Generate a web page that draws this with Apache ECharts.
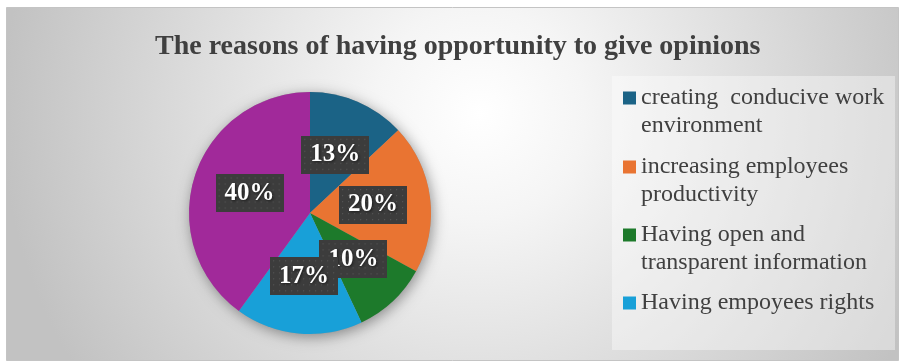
<!DOCTYPE html>
<html>
<head>
<meta charset="utf-8">
<style>
  html, body { margin: 0; padding: 0; background: #ffffff; }
  #chart { width: 900px; height: 361px; }
</style>
<script src="https://cdn.jsdelivr.net/npm/echarts@6/dist/echarts.min.js"></script>
</head>
<body>
<div id="chart"></div>
<script>
// Survey shares (percent) of the reasons
const titleText = 'The reasons of having opportunity to give opinions';
const categories = [
  'creating  conducive work\nenvironment',
  'increasing employees\nproductivity',
  'Having open and\ntransparent information',
  'Having empoyees rights',
  'Other'
];
const shares = [13, 20, 10, 17, 40];
const legendNames = categories.slice(0, 4);
const sliceColors = ['#1b6386', '#e97432', '#1d7a2b', '#18a0d8', '#a1299a'];

const SERIF = '"Liberation Serif", "Times New Roman", serif';

// Dotted dark texture used behind the percentage labels
function dottedTile(w, h) {
  const c = document.createElement('canvas');
  c.width = w; c.height = h;
  const g = c.getContext('2d');
  g.fillStyle = '#3c3c3c';
  g.fillRect(0, 0, w, h);
  g.fillStyle = '#555555';
  for (let y = 3; y < h; y += 6) {
    for (let x = 3; x < w; x += 6) {
      g.fillRect(x, y, 1.2, 1.2);
    }
  }
  return c;
}
const tile = dottedTile(68, 38);

const chart = echarts.init(document.getElementById('chart'), null, { renderer: 'canvas' });

// vertical centre of each legend marker
const legendCenters = [98, 167, 235, 303];
const legends = legendNames.map(function (name, i) {
  const twoLines = name.indexOf('\n') >= 0;
  return {
    data: [name],
    orient: 'vertical',
    left: 623,
    top: legendCenters[i] - (twoLines ? 42 : 14),
    padding: 0,
    itemWidth: 13,
    itemHeight: 13,
    itemGap: 0,
    icon: 'rect',
    selectedMode: false,
    // a leading blank line keeps the marker level with the first text line
    formatter: function (n) { return n.indexOf('\n') >= 0 ? '\n' + n : n; },
    textStyle: {
      fontFamily: SERIF,
      fontSize: 24,
      lineHeight: 28,
      color: '#404040',
      padding: [0, 0, 0, 0]
    }
  };
});

const option = {
  animation: false,
  graphic: [
    {
      type: 'rect',
      z: -10,
      shape: { x: 6.5, y: 7.5, width: 892, height: 353 },
      style: {
        fill: new echarts.graphic.RadialGradient(0.53, 0.3, 1.35, [
          { offset: 0, color: '#ffffff' },
          { offset: 0.22, color: '#f5f5f5' },
          { offset: 1, color: '#c2c2c2' }
        ]),
        stroke: '#c4c4c4',
        lineWidth: 1
      }
    },
    {
      type: 'rect',
      z: -9,
      shape: { x: 612, y: 76, width: 283, height: 274 },
      style: { fill: 'rgba(255,255,255,0.38)' }
    }
  ],
  title: {
    text: titleText,
    left: 150,
    top: 28,
    textStyle: {
      fontFamily: SERIF,
      fontSize: 28,
      fontWeight: 'bold',
      color: '#404040'
    }
  },
  legend: legends,
  series: [
    {
      // soft shadow under the whole disc
      type: 'pie',
      silent: true,
      center: [310, 213],
      radius: 121,
      z: 1,
      label: { show: false },
      labelLine: { show: false },
      itemStyle: {
        color: '#9a9a9a',
        shadowBlur: 14,
        shadowColor: 'rgba(0,0,0,0.4)',
        shadowOffsetX: 2,
        shadowOffsetY: 3
      },
      data: [{ value: 1, name: '' }]
    },
    {
      type: 'pie',
      center: [310, 213],
      radius: 121,
      startAngle: 90,
      clockwise: true,
      z: 2,
      avoidLabelOverlap: false,
      labelLayout: { hideOverlap: false },
      itemStyle: { borderWidth: 0 },
      label: {
        show: true,
        position: 'inside',
        formatter: '{c}%',
        fontFamily: SERIF,
        fontSize: 25,
        fontWeight: 'bold',
        lineHeight: 27,
        color: '#ffffff',
        padding: [6, 9, 5, 9],
        backgroundColor: { image: tile },
        shadowColor: 'rgba(0,0,0,0.55)',
        shadowBlur: 5,
        shadowOffsetX: 2,
        shadowOffsetY: 2,
        textShadowColor: 'rgba(0,0,0,0.6)',
        textShadowBlur: 3,
        textShadowOffsetX: 1,
        textShadowOffsetY: 1
      },
      labelLine: { show: false },
      emphasis: { disabled: true },
      data: categories.map(function (name, i) {
        return { name: name, value: shares[i], itemStyle: { color: sliceColors[i] } };
      })
    }
  ]
};

chart.setOption(option);
</script>
</body>
</html>
